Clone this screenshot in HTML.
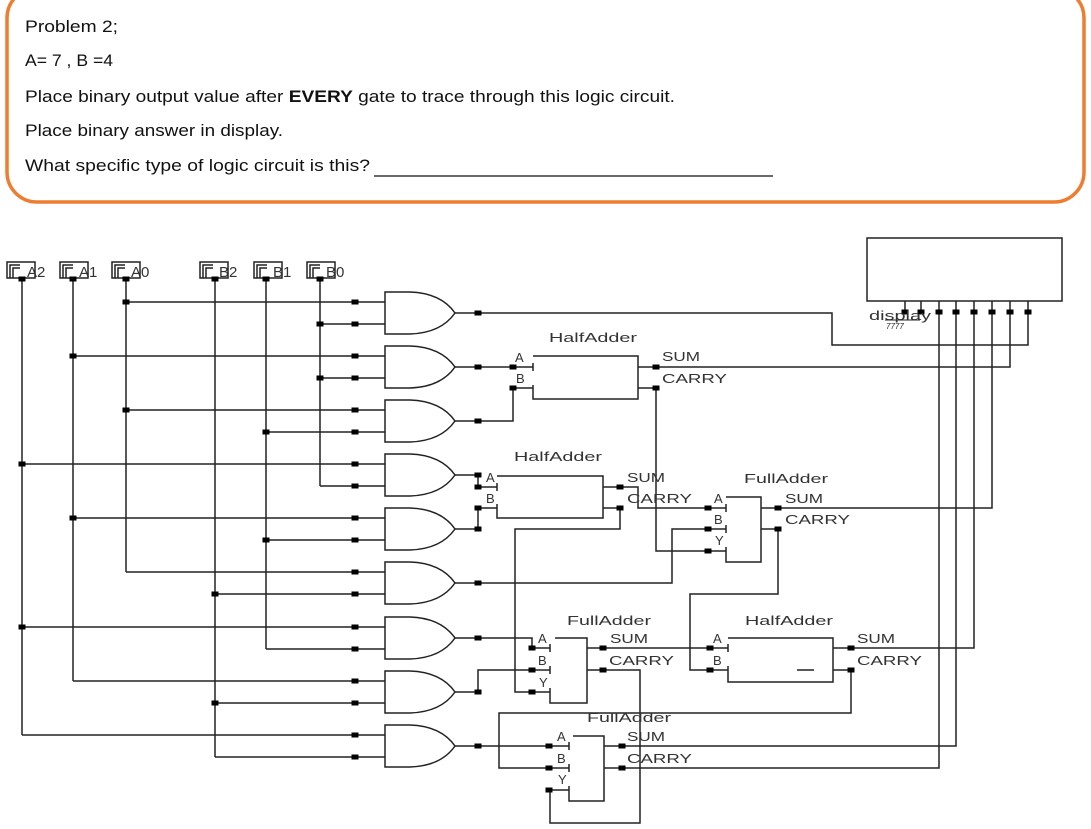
<!DOCTYPE html>
<html><head><meta charset="utf-8"><style>
html,body{margin:0;padding:0;background:#fff;width:1091px;height:829px;overflow:hidden}
svg{display:block}
.h{font-family:"Liberation Sans Narrow","Liberation Sans",sans-serif;font-size:17px;fill:#111}
.c{font-family:"Liberation Sans",sans-serif;font-size:13px;fill:#333}
</style></head><body>
<svg width="1091" height="829" viewBox="0 0 1091 829" xmlns="http://www.w3.org/2000/svg">
<defs><rect id="d" x="-3.5" y="-2.5" width="7" height="5" fill="#000"/>
<path id="g" d="M0,-21 L25,-21 Q56,-20 70,0 Q56,20 25,21 L0,21 Z" fill="none" stroke="#222" stroke-width="1.5"/></defs>
<rect x="7" y="-12" width="1077" height="214" rx="30" fill="none" stroke="#ED7D31" stroke-width="3.5"/>
<text class="h" x="25" y="32" textLength="93" lengthAdjust="spacingAndGlyphs">Problem 2;</text>
<text class="h" x="25" y="66" textLength="88" lengthAdjust="spacingAndGlyphs">A= 7 , B =4</text>
<text class="h" x="25" y="102" textLength="650" lengthAdjust="spacingAndGlyphs">Place binary output value after <tspan font-weight="bold">EVERY</tspan> gate to trace through this logic circuit.</text>
<text class="h" x="25" y="136" textLength="258" lengthAdjust="spacingAndGlyphs">Place binary answer in display.</text>
<text class="h" x="25" y="171" textLength="345" lengthAdjust="spacingAndGlyphs">What specific type of logic circuit is this?</text>
<line x1="374" y1="176" x2="773" y2="176" stroke="#111" stroke-width="1.2"/>

<g fill="none" stroke="#222" stroke-width="1.5">
<rect x="7" y="262" width="28" height="16"/><polyline points="10,278 10,265 20,265"/><polyline points="13,278 13,268 20,268"/>
<rect x="60" y="262" width="28" height="16"/><polyline points="63,278 63,265 73,265"/><polyline points="66,278 66,268 73,268"/>
<rect x="112" y="262" width="28" height="16"/><polyline points="115,278 115,265 125,265"/><polyline points="118,278 118,268 125,268"/>
<rect x="200" y="262" width="28" height="16"/><polyline points="203,278 203,265 213,265"/><polyline points="206,278 206,268 213,268"/>
<rect x="254" y="262" width="28" height="16"/><polyline points="257,278 257,265 267,265"/><polyline points="260,278 260,268 267,268"/>
<rect x="307" y="262" width="28" height="16"/><polyline points="310,278 310,265 320,265"/><polyline points="313,278 313,268 320,268"/>
<line x1="22" y1="279" x2="22" y2="735"/>
<line x1="73" y1="279" x2="73" y2="681"/>
<line x1="126" y1="279" x2="126" y2="572"/>
<line x1="215" y1="279" x2="215" y2="757"/>
<line x1="266" y1="279" x2="266" y2="649"/>
<line x1="320" y1="279" x2="320" y2="486"/>
<path d="M126,302H385M320,324H385M73,356H385M320,378H385M126,410H385M266,432H385M22,464H385M320,486H385M73,518H385M266,540H385M126,572H385M215,594H385M22,627H385M266,649H385M73,681H385M215,703H385M22,735H385M215,757H385"/>
<path d="M455,313H478M455,367H478M455,421H478M455,475H478M455,529H478M455,583H478M455,638H478M455,692H478M455,746H478"/>
<polyline points="478,313 832,313 832,345 1028,345 1028,312"/>
<polyline points="478,367 533,367"/>
<polyline points="478,421 513,421 513,388 533,388"/>
<polyline points="478,475 478,487 497,487"/>
<polyline points="478,529 478,508 497,508"/>
<polyline points="478,583 672,583 672,529 726,529"/>
<polyline points="478,638 532,638 532,648 550,648"/>
<polyline points="478,692 478,670 550,670"/>
<polyline points="478,746 569,746"/>
<path d="M533,356H638V399H533V385M533,363V371"/>
<polyline points="638,367 1010,367 1010,312"/>
<polyline points="638,388 656,388 656,551 726,551"/>
<path d="M497,476H603V518H497V504M497,483V491"/>
<polyline points="603,487 638,487 638,508 726,508"/>
<polyline points="603,508 620,508 620,529 515,529 515,692 550,692"/>
<path d="M726,497H761V562H726V547M726,504V512M726,525V533"/>
<polyline points="761,508 992,508 992,312"/>
<polyline points="761,529 778,529 778,594 690,594 690,670 728,670"/>
<path d="M728,638H833V682H728V666M728,644V652M797,670H814"/>
<polyline points="587,648 728,648"/>
<polyline points="833,648 974,648 974,312"/>
<polyline points="833,670 851,670 851,713 499,713 499,768 569,768"/>
<path d="M555,638H587V703H550V688M550,644V652M550,666V674"/>
<polyline points="587,670 640,670 640,823 550,823 550,790 569,790"/>
<path d="M573,736H604V801H569V786M569,742V750M569,764V772"/>
<polyline points="604,746 956,746 956,312"/>
<polyline points="604,768 939,768 939,312"/>
<rect x="867" y="238" width="195" height="63"/>
<path d="M905,301V312M921,301V312M939,301V312M956,301V312M974,301V312M992,301V312M1010,301V312M1028,301V312"/>
<line x1="885" y1="320" x2="920" y2="320" stroke-width="1"/>
</g>
<g>
<use href="#g" x="385" y="313"/><use href="#g" x="385" y="367"/><use href="#g" x="385" y="421"/>
<use href="#g" x="385" y="475"/><use href="#g" x="385" y="529"/><use href="#g" x="385" y="583"/>
<use href="#g" x="385" y="638"/><use href="#g" x="385" y="692"/><use href="#g" x="385" y="746"/>
</g>
<g>
<use href="#d" x="22" y="279"/><use href="#d" x="73" y="279"/><use href="#d" x="126" y="279"/>
<use href="#d" x="215" y="279"/><use href="#d" x="266" y="279"/><use href="#d" x="320" y="279"/>
<use href="#d" x="126" y="302"/><use href="#d" x="320" y="324"/><use href="#d" x="73" y="356"/><use href="#d" x="320" y="378"/>
<use href="#d" x="126" y="410"/><use href="#d" x="266" y="432"/><use href="#d" x="22" y="464"/><use href="#d" x="73" y="518"/>
<use href="#d" x="266" y="540"/><use href="#d" x="215" y="594"/><use href="#d" x="22" y="627"/><use href="#d" x="215" y="703"/>
<use href="#d" x="355" y="302"/><use href="#d" x="355" y="324"/><use href="#d" x="355" y="356"/><use href="#d" x="355" y="378"/>
<use href="#d" x="355" y="410"/><use href="#d" x="355" y="432"/><use href="#d" x="355" y="464"/><use href="#d" x="355" y="486"/>
<use href="#d" x="355" y="518"/><use href="#d" x="355" y="540"/><use href="#d" x="355" y="572"/><use href="#d" x="355" y="594"/>
<use href="#d" x="355" y="627"/><use href="#d" x="355" y="649"/><use href="#d" x="355" y="681"/><use href="#d" x="355" y="703"/>
<use href="#d" x="355" y="735"/><use href="#d" x="355" y="757"/>
<use href="#d" x="478" y="313"/><use href="#d" x="478" y="367"/><use href="#d" x="478" y="421"/><use href="#d" x="478" y="475"/>
<use href="#d" x="478" y="529"/><use href="#d" x="478" y="583"/><use href="#d" x="478" y="638"/><use href="#d" x="478" y="692"/>
<use href="#d" x="478" y="746"/><use href="#d" x="478" y="487"/><use href="#d" x="478" y="508"/>
<use href="#d" x="513" y="367"/><use href="#d" x="513" y="388"/><use href="#d" x="656" y="367"/><use href="#d" x="656" y="388"/>
<use href="#d" x="620" y="487"/><use href="#d" x="620" y="508"/>
<use href="#d" x="708" y="508"/><use href="#d" x="708" y="529"/><use href="#d" x="708" y="551"/>
<use href="#d" x="778" y="508"/><use href="#d" x="778" y="529"/>
<use href="#d" x="532" y="648"/><use href="#d" x="532" y="670"/><use href="#d" x="532" y="692"/>
<use href="#d" x="603" y="648"/><use href="#d" x="603" y="670"/>
<use href="#d" x="710" y="648"/><use href="#d" x="710" y="670"/><use href="#d" x="851" y="648"/><use href="#d" x="851" y="670"/>
<use href="#d" x="549" y="746"/><use href="#d" x="549" y="768"/><use href="#d" x="549" y="790"/>
<use href="#d" x="622" y="746"/><use href="#d" x="622" y="768"/>
<use href="#d" x="905" y="312"/><use href="#d" x="921" y="312"/><use href="#d" x="939" y="312"/><use href="#d" x="956" y="312"/>
<use href="#d" x="974" y="312"/><use href="#d" x="992" y="312"/><use href="#d" x="1010" y="312"/><use href="#d" x="1028" y="312"/>
</g>
<g class="c">
<g font-size="15"><text x="27" y="277">A2</text><text x="79" y="277">A1</text><text x="131" y="277">A0</text>
<text x="219" y="277">B2</text><text x="273" y="277">B1</text><text x="326" y="277">B0</text></g>
<text x="549" y="342" textLength="88" lengthAdjust="spacingAndGlyphs">HalfAdder</text>
<text x="515" y="362">A</text><text x="516" y="383">B</text>
<text x="662" y="361" textLength="38" lengthAdjust="spacingAndGlyphs">SUM</text>
<text x="662" y="383" textLength="65" lengthAdjust="spacingAndGlyphs">CARRY</text>
<text x="514" y="461" textLength="88" lengthAdjust="spacingAndGlyphs">HalfAdder</text>
<text x="486" y="482">A</text><text x="486" y="503">B</text>
<text x="627" y="482" textLength="38" lengthAdjust="spacingAndGlyphs">SUM</text>
<text x="627" y="503" textLength="65" lengthAdjust="spacingAndGlyphs">CARRY</text>
<text x="744" y="483" textLength="84" lengthAdjust="spacingAndGlyphs">FullAdder</text>
<text x="714" y="503">A</text><text x="714" y="524">B</text><text x="715" y="545">Y</text>
<text x="785" y="503" textLength="38" lengthAdjust="spacingAndGlyphs">SUM</text>
<text x="785" y="524" textLength="65" lengthAdjust="spacingAndGlyphs">CARRY</text>
<text x="567" y="625" textLength="84" lengthAdjust="spacingAndGlyphs">FullAdder</text>
<text x="538" y="643">A</text><text x="538" y="665">B</text><text x="539" y="687">Y</text>
<text x="610" y="643" textLength="38" lengthAdjust="spacingAndGlyphs">SUM</text>
<text x="609" y="665" textLength="65" lengthAdjust="spacingAndGlyphs">CARRY</text>
<text x="745" y="625" textLength="88" lengthAdjust="spacingAndGlyphs">HalfAdder</text>
<text x="713" y="643">A</text><text x="713" y="665">B</text>
<text x="857" y="643" textLength="38" lengthAdjust="spacingAndGlyphs">SUM</text>
<text x="857" y="665" textLength="65" lengthAdjust="spacingAndGlyphs">CARRY</text>
<text x="587" y="722" textLength="84" lengthAdjust="spacingAndGlyphs">FullAdder</text>
<text x="557" y="741">A</text><text x="557" y="763">B</text><text x="558" y="784">Y</text>
<text x="627" y="741" textLength="38" lengthAdjust="spacingAndGlyphs">SUM</text>
<text x="627" y="763" textLength="65" lengthAdjust="spacingAndGlyphs">CARRY</text>
<text x="869" y="320" textLength="62" lengthAdjust="spacingAndGlyphs">display</text>
<text x="886" y="329" font-size="8" font-style="italic">7777</text>
</g>
</svg>
</body></html>
